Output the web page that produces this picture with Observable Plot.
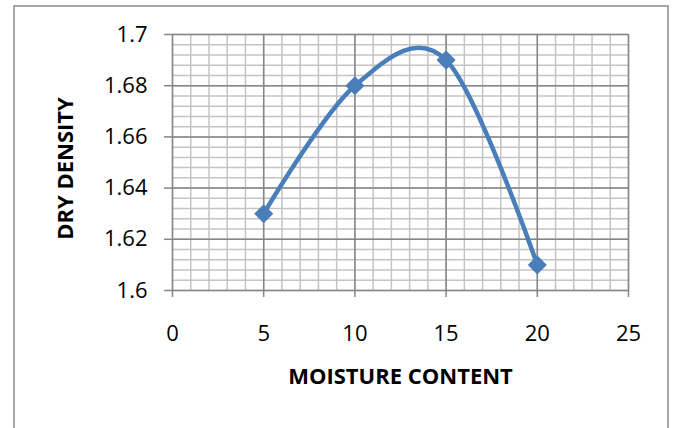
<!DOCTYPE html>
<html>
<head>
<meta charset="utf-8">
<script src="https://cdn.jsdelivr.net/npm/d3@7"></script>
<script src="https://cdn.jsdelivr.net/npm/@observablehq/plot@0.6"></script>
<style>
  html, body { margin: 0; padding: 0; background: #fff; overflow: hidden; }
  #wrap { position: relative; width: 676px; height: 428px; }
  #border { position: absolute; left: 13px; top: 5px; width: 656px; height: 460px;
            border: 2px solid #a6a6a6; box-sizing: border-box; }
  #chart { position: absolute; left: 0; top: 0; }
</style>
</head>
<body>
<div id="wrap"><div id="border"></div><div id="chart"></div></div>
<script>
const moisture = [5, 10, 15, 20];
const dryDensity = [1.63, 1.68, 1.69, 1.61];
const xTicks = [0, 5, 10, 15, 20, 25];
const yTicks = [1.6, 1.62, 1.64, 1.66, 1.68, 1.7];
const xMinor = [0,1,2,3,4,5,6,7,8,9,10,11,12,13,14,15,16,17,18,19,20,21,22,23,24,25];
const yMinor = [1.6,1.604,1.608,1.612,1.616,1.62,1.624,1.628,1.632,1.636,1.64,1.644,1.648,1.652,1.656,1.66,1.664,1.668,1.672,1.676,1.68,1.684,1.688,1.692,1.696,1.7];
const xTitle = "MOISTURE CONTENT";
const yTitle = "DRY DENSITY";

const data = moisture.map((m, i) => ({m, d: dryDensity[i]}));
const font = "'Open Sans', sans-serif";
const major = "#868686", minor = "#c4c4c4", blue = "#4a7ebb";

const plot = Plot.plot({
  width: 676, height: 428,
  marginLeft: 172, marginRight: 48, marginTop: 34, marginBottom: 138,
  style: { fontFamily: font, fontSize: "22px", color: "#000", background: "transparent", overflow: "visible" },
  x: { domain: [0, 25] },
  y: { domain: [1.6, 1.7] },
  marks: [
    Plot.ruleX(xMinor, { stroke: minor, strokeWidth: 1.5 }),
    Plot.ruleY(yMinor, { stroke: minor, strokeWidth: 1.5 }),
    Plot.ruleX(xTicks, { stroke: major, strokeWidth: 1.5 }),
    Plot.ruleY(yTicks, { stroke: major, strokeWidth: 1.5 }),
    Plot.axisX({ ticks: xTicks, tickSize: 7, tickPadding: 28, stroke: major, strokeWidth: 1.5, fill: "#000", label: null, tickFormat: d => String(d) }),
    Plot.axisY({ ticks: yTicks, tickSize: 8, tickPadding: 17, stroke: major, strokeWidth: 1.5, fill: "#000", label: null, tickFormat: d => String(Math.round(d * 100) / 100) }),
    Plot.line(data, { x: "m", y: "d", curve: "cardinal", stroke: blue, strokeWidth: 4.5 }),
    Plot.dot(data, { x: "m", y: "d", symbol: "diamond2", r: 8.6, fill: blue, stroke: "none" }),
    Plot.text([xTitle], { frameAnchor: "bottom", dy: 93, text: d => d, fontWeight: "bold", fontSize: 22, fill: "#000" }),
    Plot.text([yTitle], { frameAnchor: "left", textAnchor: "middle", dx: -107, dy: 6, rotate: -90, text: d => d, fontWeight: "bold", fontSize: 22, fill: "#000" })
  ]
});
document.getElementById("chart").appendChild(plot);
</script>
</body>
</html>
